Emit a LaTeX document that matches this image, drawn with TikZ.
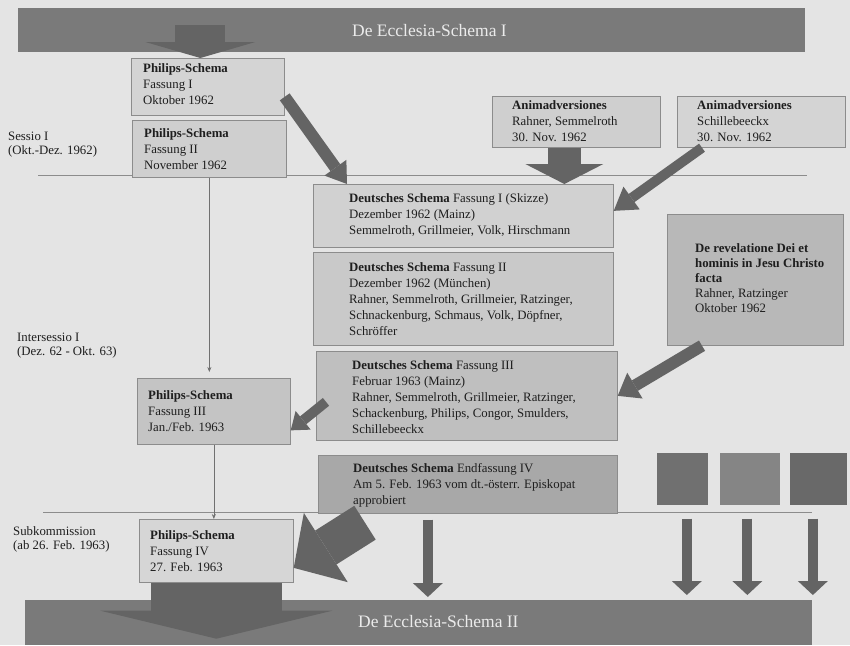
\documentclass[tikz,border=0pt]{standalone}
\usepackage{fontspec}
\setmainfont{Liberation Serif}
\usetikzlibrary{arrows.meta}
\definecolor{paper}{RGB}{228,228,228}
\definecolor{bannergray}{RGB}{122,122,122}
\definecolor{arrowgray}{RGB}{100,100,100}
\definecolor{edge}{RGB}{140,140,140}
\definecolor{ink}{RGB}{30,30,30}
\tikzset{
  box/.style={draw=edge, line width=0.7pt, anchor=north west, inner sep=0pt},
  txt/.style={anchor=north west, align=left, inner sep=0pt, text=ink, font=\fontsize{12.8}{16}\selectfont},
  side/.style={txt, font=\fontsize{12.8}{14}\selectfont},
  bannertxt/.style={anchor=west, inner sep=0pt, text=white!92!black, font=\fontsize{17.5}{19}\selectfont},
  sep/.style={draw=edge, line width=0.6pt},
  thin/.style={draw=edge!80!black, line width=0.6pt, -{Stealth[length=5pt,width=4pt]}},
  fat/.style n args={3}{draw=arrowgray, line width=#1, -{Triangle[length=#2,width=#3,line width=0pt]}}
}
\begin{document}
\begin{tikzpicture}[x=1pt, y=-1pt]
    \useasboundingbox (0,0) rectangle (850,645);
    \fill[paper] (0,0) rectangle (850,645);

    % banners
    \node[box, draw=none, fill=bannergray, minimum width=787pt, minimum height=44pt] (banner) at (18,8) {};
    \node[box, draw=none, fill=bannergray, minimum width=787pt, minimum height=45pt] (banner2) at (25,600) {};
    \node[bannertxt] (b1t) at (352,31) {De Ecclesia-Schema I};
    \node[bannertxt] (b2t) at (358,622) {De Ecclesia-Schema II};

    % periods
    \draw[sep] (38,175) -- (807,175);
    \draw[sep] (43,512) -- (812,512);
    \node[side] (sessio) at (8,131.5) {Sessio I\\(Okt.-Dez. 1962)};
    \node[side] (inter) at (17,332.5) {Intersessio I\\(Dez. 62 - Okt. 63)};
    \node[side] (subk) at (13,526.5) {Subkommission\\(ab 26. Feb. 1963)};

    % Philips line
    \node[box, fill=black!17, minimum width=153pt, minimum height=57pt] (ph1) at (131,58) {};
    \node[box, fill=black!19, minimum width=154pt, minimum height=57pt] (ph2) at (132,120) {};
    \node[box, fill=black!23, minimum width=153pt, minimum height=66pt] (ph3) at (137,378) {};
    \node[box, fill=black!16, minimum width=154pt, minimum height=63pt] (ph4) at (139,519) {};
    \node[txt] (ph1t) at ([shift={(12pt,-5.5pt)}]ph1.north west) {\textbf{Philips-Schema}\\Fassung I\\Oktober 1962};
    \node[txt] (ph2t) at ([shift={(12pt,-8.5pt)}]ph2.north west) {\textbf{Philips-Schema}\\Fassung II\\November 1962};
    \node[txt, anchor=west] (ph3t) at ([xshift=11pt]ph3.west) {\textbf{Philips-Schema}\\Fassung III\\Jan./Feb. 1963};
    \node[txt] (ph4t) at ([shift={(11pt,-11.5pt)}]ph4.north west) {\textbf{Philips-Schema}\\Fassung IV\\27. Feb. 1963};

    % Animadversiones
    \node[box, fill=black!19, minimum width=168pt, minimum height=51pt] (ani1) at (492,96) {};
    \node[box, fill=black!17, minimum width=168pt, minimum height=51pt] (ani2) at (677,96) {};
    \node[txt] (ani1t) at ([shift={(20pt,-4.5pt)}]ani1.north west) {\textbf{Animadversiones}\\Rahner, Semmelroth\\30. Nov. 1962};
    \node[txt] (ani2t) at ([shift={(20pt,-4.5pt)}]ani2.north west) {\textbf{Animadversiones}\\Schillebeeckx\\30. Nov. 1962};

    % Deutsches Schema
    \node[box, fill=black!18, minimum width=300pt, minimum height=63pt] (d1) at (313,184) {};
    \node[box, fill=black!21, minimum width=300pt, minimum height=93pt] (d2) at (313,252) {};
    \node[box, fill=black!25, minimum width=301pt, minimum height=89pt] (d3) at (316,351) {};
    \node[box, fill=black!34, minimum width=299pt, minimum height=58pt] (d4) at (318,455) {};
    \node[txt] (d1t) at ([shift={(36pt,-9.5pt)}]d1.north west) {\textbf{Deutsches Schema} Fassung I (Skizze)\\Dezember 1962 (Mainz)\\Semmelroth, Grillmeier, Volk, Hirschmann};
    \node[txt] (d2t) at ([shift={(36pt,-10.5pt)}]d2.north west) {\textbf{Deutsches Schema} Fassung II\\Dezember 1962 (München)\\Rahner, Semmelroth, Grillmeier, Ratzinger,\\Schnackenburg, Schmaus, Volk, Döpfner,\\Schröffer};
    \node[txt] (d3t) at ([shift={(36pt,-9.5pt)}]d3.north west) {\textbf{Deutsches Schema} Fassung III\\Februar 1963 (Mainz)\\Rahner, Semmelroth, Grillmeier, Ratzinger,\\Schackenburg, Philips, Congor, Smulders,\\Schillebeeckx};
    \node[txt] (d4t) at ([shift={(35pt,-8.5pt)}]d4.north west) {\textbf{Deutsches Schema} Endfassung IV\\Am 5. Feb. 1963 vom dt.-österr. Episkopat\\approbiert};

    % De revelatione
    \node[box, fill=black!28, minimum width=176pt, minimum height=131pt] (rev) at (667,214) {};
    \node[txt, anchor=west, font=\fontsize{12.8}{15}\selectfont] (revt) at ([shift={(28pt,2pt)}]rev.west) {\textbf{De revelatione Dei et}\\\textbf{hominis in Jesu Christo}\\\textbf{facta}\\Rahner, Ratzinger\\Oktober 1962};

    % dark squares
    \node[box, draw=none, fill=black!56, minimum width=51pt, minimum height=52pt] (sq1) at (657,453) {};
    \node[box, draw=none, fill=black!48, minimum width=60pt, minimum height=52pt] (sq2) at (720,453) {};
    \node[box, draw=none, fill=black!59, minimum width=57pt, minimum height=52pt] (sq3) at (790,453) {};

    % thin connectors
    \draw[thin, shorten >=6pt] (ph2.south) -- (ph2.south |- ph3.north);
    \draw[thin] (ph3.south) -- (ph3.south |- ph4.north);

    % broad arrows
    \draw[fat={50pt}{16pt}{110pt}] ([xshift=-7.5pt,yshift=33pt]ph1.north) -- ([xshift=-7.5pt]ph1.north);
    \draw[fat={33pt}{20pt}{78pt}] ([xshift=-12pt]ani1.south) -- ([xshift=-12pt]ani1.south |- d1.north);
    \draw[fat={12pt}{20pt}{27pt}] ([yshift=-10pt]ph1.east) -- ([xshift=34pt]d1.north west);
    \draw[fat={10pt}{22pt}{28pt}] ([xshift=25pt]ani2.south west) -- ([yshift=5pt]d1.east);
    \draw[fat={12pt}{20pt}{30pt}] ([xshift=35pt]rev.south west) -- (d3.east);
    \draw[fat={10pt}{16pt}{24pt}] ([xshift=10pt,yshift=-6pt]d3.west) -- ([yshift=-19pt]ph3.east);
    \draw[fat={40pt}{38pt}{82pt}] ([xshift=47pt,yshift=-9pt]d4.south west) -- ([yshift=-17pt]ph4.east);
    \draw[fat={131pt}{28pt}{232pt}] (ph4.south) -- ([yshift=7pt]ph4.south |- banner2.south);
    \draw[fat={10pt}{14pt}{30pt}] ([xshift=-40pt,yshift=-6pt]d4.south) -- ([xshift=-40pt,yshift=3pt]d4.south |- banner2.north);
    \draw[fat={10pt}{14pt}{30pt}] ([xshift=4pt,yshift=-13pt]sq1.south) -- ([xshift=4pt,yshift=5pt]sq1.south |- banner2.north);
    \draw[fat={10pt}{14pt}{30pt}] ([xshift=-3pt,yshift=-13pt]sq2.south) -- ([xshift=-3pt,yshift=5pt]sq2.south |- banner2.north);
    \draw[fat={10pt}{14pt}{30pt}] ([xshift=-6pt,yshift=-13pt]sq3.south) -- ([xshift=-6pt,yshift=5pt]sq3.south |- banner2.north);
\end{tikzpicture}
\end{document}
